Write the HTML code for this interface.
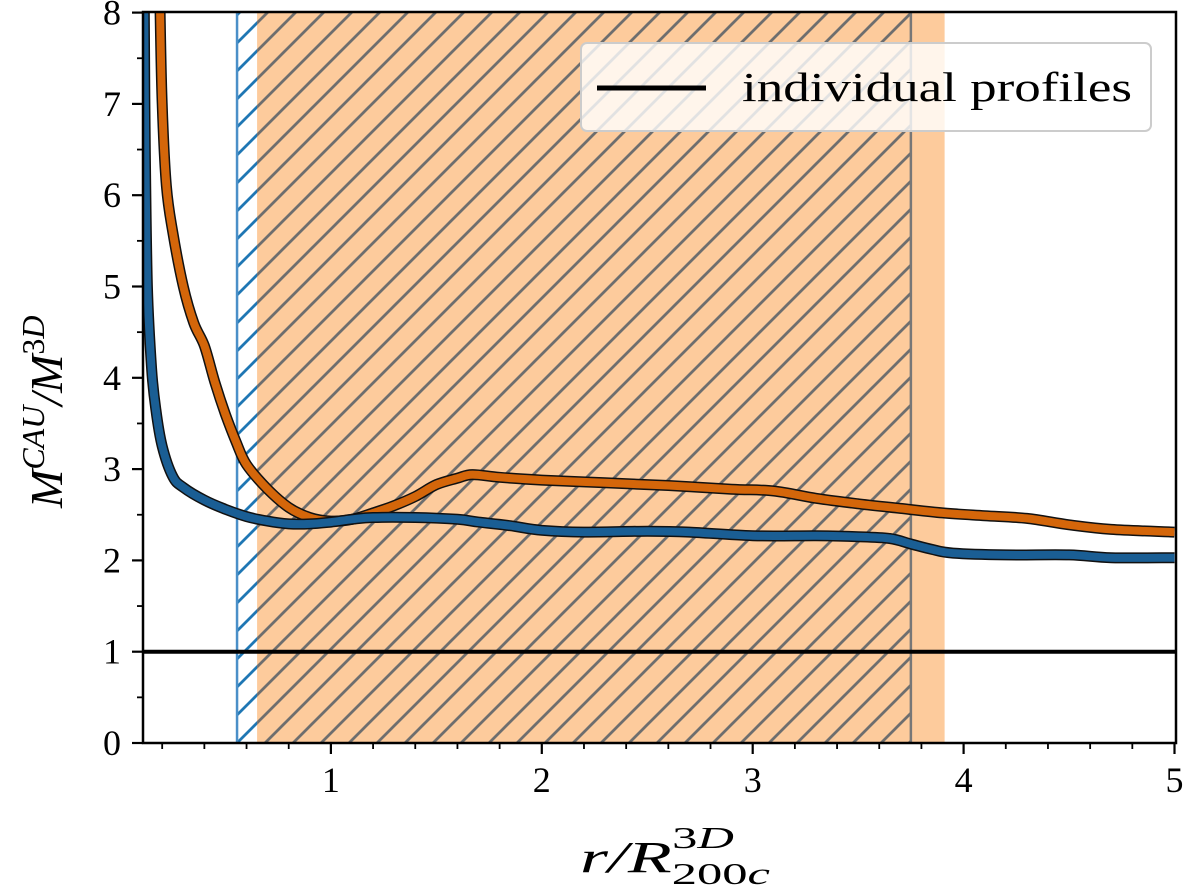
<!DOCTYPE html>
<html><head><meta charset="utf-8"><style>
body{margin:0;background:#fff;width:1200px;height:890px;overflow:hidden}
text{font-family:"Liberation Serif",serif;fill:#000}
</style></head><body>
<svg id="chart" width="1200" height="890" xmlns="http://www.w3.org/2000/svg">
<defs>
<clipPath id="plotclip"><rect x="143" y="12" width="1033" height="731"/></clipPath>
<pattern id="hatchGray" patternUnits="userSpaceOnUse" width="28" height="28">
<path d="M-7,7 L7,-7 M0,28 L28,0 M21,35 L35,21" stroke="#6e6e6e" stroke-width="2.8"/></pattern>
<pattern id="hatchBlue" patternUnits="userSpaceOnUse" width="28" height="28">
<path d="M-7,7 L7,-7 M0,28 L28,0 M21,35 L35,21" stroke="#1f77b4" stroke-width="2.8"/></pattern>
</defs>
<g id="plot" clip-path="url(#plotclip)"></g>
<g id="axes"></g>
</svg>
<script>
const blueX=[0.115,0.12,0.13,0.15,0.17,0.2,0.25,0.3,0.4,0.5,0.6,0.7,0.8,0.9,1.0,1.1,1.2,1.4,1.6,1.7,1.85,2.0,2.2,2.5,2.7,3.0,3.3,3.5,3.65,3.75,3.85,3.95,4.2,4.5,4.7,5.0];
const blueY=[8.0,6.5,5.0,4.1,3.65,3.25,2.92,2.80,2.66,2.56,2.48,2.43,2.40,2.40,2.42,2.45,2.47,2.47,2.45,2.42,2.38,2.33,2.31,2.32,2.31,2.27,2.27,2.26,2.24,2.18,2.12,2.08,2.06,2.06,2.03,2.03];
const orangeX=[0.19,0.2,0.22,0.25,0.3,0.35,0.4,0.45,0.5,0.55,0.6,0.7,0.8,0.9,1.0,1.1,1.2,1.3,1.4,1.5,1.6,1.67,1.8,2.0,2.3,2.6,2.9,3.1,3.3,3.5,3.7,3.9,4.1,4.3,4.5,4.7,5.0];
const orangeY=[8.0,7.0,6.1,5.6,5.0,4.6,4.35,3.95,3.6,3.3,3.05,2.78,2.58,2.47,2.43,2.45,2.52,2.6,2.7,2.83,2.9,2.94,2.91,2.88,2.85,2.82,2.78,2.76,2.68,2.62,2.57,2.52,2.49,2.46,2.39,2.34,2.31];
const blueRegion=[0.555,3.75];
const orangeRegion=[0.65,3.91];
const xTicks=[1,2,3,4,5];
const yTicks=[0,1,2,3,4,5,6,7,8];
const X=v=>120+v*210.9, Y=v=>743-v*91.3;
const NS="http://www.w3.org/2000/svg";
const plot=document.getElementById('plot'), axes=document.getElementById('axes');
function mk(tag,attrs,parent){const e=document.createElementNS(NS,tag);for(const k in attrs)e.setAttribute(k,attrs[k]);parent.appendChild(e);return e;}
let r=mk('rect',{x:X(blueRegion[0]),y:0,width:X(blueRegion[1])-X(blueRegion[0]),height:890,fill:'url(#hatchBlue)'},plot);


r=mk('rect',{x:X(orangeRegion[0]),y:0,width:X(orangeRegion[1])-X(orangeRegion[0]),height:890,fill:'#fdcb9c'},plot);


r=mk('rect',{x:X(orangeRegion[0]),y:0,width:X(blueRegion[1])-X(orangeRegion[0]),height:890,fill:'url(#hatchGray)'},plot);


r=mk('line',{x1:X(blueRegion[0]),x2:X(blueRegion[0]),y1:0,y2:890,stroke:'#4a8fc8','stroke-width':2.5},plot);


r=mk('line',{x1:X(blueRegion[1]),x2:X(blueRegion[1]),y1:0,y2:890,stroke:'#777','stroke-width':2.5},plot);


r=mk('line',{x1:143,x2:1176,y1:Y(1),y2:Y(1),stroke:'#000','stroke-width':4},plot);


function smooth(pts){
  let d='M'+pts[0][0].toFixed(1)+','+pts[0][1].toFixed(1);
  for(let i=0;i<pts.length-1;i++){
    const p0=pts[Math.max(0,i-1)],p1=pts[i],p2=pts[i+1],p3=pts[Math.min(pts.length-1,i+2)];
    const c1=[p1[0]+(p2[0]-p0[0])/6,p1[1]+(p2[1]-p0[1])/6];
    const c2=[p2[0]-(p3[0]-p1[0])/6,p2[1]-(p3[1]-p1[1])/6];
    d+=' C'+c1.map(v=>v.toFixed(1)).join(',')+' '+c2.map(v=>v.toFixed(1)).join(',')+' '+p2.map(v=>v.toFixed(1)).join(',');
  }
  return d;
}
function curve(xs,ys,color,name){
  const d=smooth(xs.map((v,i)=>[X(v),Y(ys[i])]));
  let o=mk('path',{d:d,fill:'none',stroke:'#111','stroke-width':11,'stroke-linejoin':'round'},plot);
  
  
  let p=mk('path',{d:d,fill:'none',stroke:color,'stroke-width':8,'stroke-linejoin':'round'},plot);
  
  
}
curve(orangeX,orangeY,'#d4660a','orange-profile');
curve(blueX,blueY,'#1a5e94','blue-profile');
let lg=mk('rect',{x:581,y:43,width:570,height:88,rx:6,fill:'rgba(255,255,255,0.8)',stroke:'#ccc','stroke-width':2},axes);


let ll=mk('line',{x1:597,x2:706,y1:88,y2:88,stroke:'#000','stroke-width':5},axes);


let lt=mk('text',{x:742,y:101,'font-size':41,textLength:390,lengthAdjust:'spacingAndGlyphs'},axes);lt.textContent='individual profiles';


let fr=mk('rect',{x:143,y:12,width:1033,height:731,fill:'none',stroke:'#000','stroke-width':2.5},axes);


xTicks.forEach(v=>{
  let t=mk('line',{x1:X(v),x2:X(v),y1:743,y2:754,stroke:'#000','stroke-width':2.2},axes);
  
  
  let l=mk('text',{x:X(v),y:792,'font-size':36,'text-anchor':'middle'},axes);l.textContent=v;
  
  
});
for(let v=0.2;v<5;v+=0.2){if(Math.abs(v-Math.round(v))<1e-6)continue;
  let t=mk('line',{x1:X(v),x2:X(v),y1:743,y2:749,stroke:'#000','stroke-width':1.8},axes);
  
  }
yTicks.forEach(v=>{
  let t=mk('line',{x1:132,x2:143,y1:Y(v),y2:Y(v),stroke:'#000','stroke-width':2.2},axes);
  
  
  let l=mk('text',{x:121,y:Y(v)+12,'font-size':36,'text-anchor':'end'},axes);l.textContent=v;
  
  
  if(v<8){let m=mk('line',{x1:137,x2:143,y1:Y(v+0.5),y2:Y(v+0.5),stroke:'#000','stroke-width':1.8},axes);
  
  }
});
let xt=mk('text',{x:580,y:872,'font-size':44,'font-style':'italic',textLength:190,lengthAdjust:'spacingAndGlyphs'},axes);
xt.innerHTML='r/R<tspan font-size="31" dy="12" font-style="normal">200</tspan><tspan font-size="31" font-style="italic">c</tspan><tspan font-size="31" dx="-60" dy="-36" font-style="normal">3</tspan><tspan font-size="31">D</tspan>';


let yt=mk('text',{x:0,y:0,'font-size':46,'font-style':'italic',transform:'translate(62,508) rotate(-90)'},axes);
yt.innerHTML='M<tspan font-size="32" dy="-18">CAU</tspan><tspan dy="18">/M</tspan><tspan font-size="32" dy="-18" font-style="normal">3</tspan><tspan font-size="32">D</tspan>';


</script>
</body></html>
